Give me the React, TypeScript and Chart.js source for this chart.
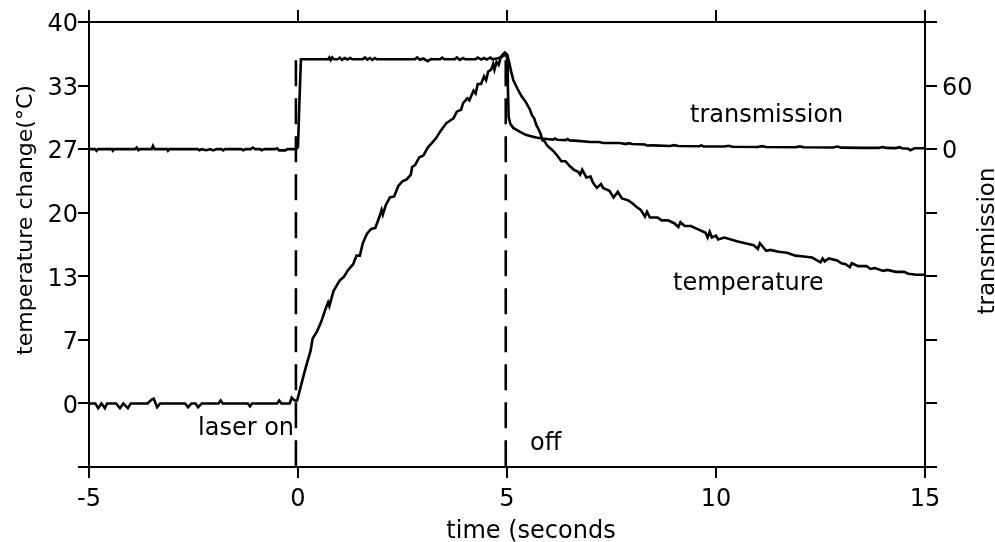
import React, { useEffect, useRef } from "react";
import { Chart, registerables } from "chart.js";

Chart.register(...registerables);

// ---------- data ----------
const xTicks = [-5, 0, 5, 10, 15];
const leftTicks = [-20 / 3, 0, 20 / 3, 40 / 3, 20, 80 / 3, 100 / 3, 40];
const rightTicks = [-300, -240, -180, -120, -60, 0, 60, 120];
const rightLabeled = [0, 60];

const tempTime = [
  -5, -4.85, -4.78, -4.7, -4.62, -4.57, -4.5, -4.35, -4.26, -4.18, -4.07, -4.0,
  -3.6, -3.5, -3.45, -3.37, -3.3, -2.7, -2.63, -2.55, -2.45, -2.39, -2.3, -1.9,
  -1.85, -1.8, -1.2, -1.15, -1.1, -0.5, -0.45, -0.4, -0.2, -0.15, -0.08, -0.02,
  0.05, 0.15, 0.22, 0.3, 0.35, 0.45, 0.55, 0.65, 0.72, 0.75, 0.85, 1.0, 1.1, 1.2,
  1.32, 1.4, 1.48, 1.55, 1.65, 1.75, 1.85, 1.95, 2.0, 2.03, 2.1, 2.2, 2.3, 2.4,
  2.5, 2.6, 2.7, 2.73, 2.8, 2.9, 3.0, 3.1, 3.2, 3.3, 3.4, 3.45, 3.55, 3.65, 3.72,
  3.8, 3.9, 3.95, 4.05, 4.1, 4.2, 4.25, 4.3, 4.38, 4.45, 4.5, 4.55, 4.62, 4.67,
  4.7, 4.75, 4.8, 4.85, 4.9, 4.95, 5.0, 5.05, 5.1, 5.15, 5.25, 5.35, 5.45, 5.55,
  5.6, 5.65, 5.7, 5.75, 5.8, 5.85, 5.9, 5.95, 6.0, 6.1, 6.2, 6.3, 6.4, 6.5, 6.6,
  6.7, 6.75, 6.8, 6.9, 7.0, 7.05, 7.15, 7.25, 7.3, 7.45, 7.55, 7.65, 7.75, 7.9,
  8.0, 8.1, 8.2, 8.3, 8.35, 8.42, 8.6, 8.7, 8.85, 9.0, 9.1, 9.15, 9.25, 9.4, 9.6,
  9.75, 9.8, 9.85, 9.9, 10.0, 10.05, 10.2, 10.5, 10.7, 10.9, 11.0, 11.05, 11.2,
  11.3, 11.5, 11.7, 11.9, 12.1, 12.3, 12.5, 12.55, 12.6, 12.7, 12.9, 13.0, 13.1,
  13.2, 13.25, 13.4, 13.6, 13.7, 13.8, 14.0, 14.1, 14.3, 14.5, 14.6, 14.8, 15.0,
];
const tempValue = [
  0, 0, -0.5, 0, -0.5, 0, 0, 0, -0.5, 0, -0.5, 0,
  0, 0.4, 0.5, -0.4, 0, 0, -0.4, 0, 0, -0.4, 0, 0,
  0.3, 0, 0, -0.3, 0, 0, 0.3, 0, 0, 0.6, 0.3, 0.3,
  1.5, 3.2, 4.3, 5.5, 6.8, 7.5, 8.5, 9.8, 10.6, 10.2, 11.8, 12.9, 13.3, 14.0,
  14.6, 15.5, 15.5, 16.8, 17.8, 18.3, 18.4, 19.6, 20.3, 19.8, 20.8, 21.6, 21.7, 22.8,
  23.3, 23.5, 24.0, 24.8, 25.0, 25.8, 26.0, 26.8, 27.3, 27.8, 28.5, 28.8, 29.4, 29.7, 29.9,
  30.6, 30.8, 31.5, 32.0, 31.8, 32.8, 32.5, 33.5, 33.5, 34.3, 33.9, 34.8, 35.0, 35.6,
  35.0, 35.8, 35.5, 36.3, 36.6, 36.8, 36.6, 35.8, 34.8, 33.9, 33.0, 32.2, 31.6, 30.8,
  30.2, 29.9, 29.2, 28.8, 28.3, 27.6, 27.5, 27.1, 26.9, 26.5, 26.0, 25.4, 25.4, 24.9, 24.5,
  24.3, 24.0, 24.5, 23.7, 23.8, 23.2, 22.6, 23.0, 22.6, 22.3, 21.6, 22.2, 21.5, 21.3,
  21.0, 20.6, 20.3, 19.6, 20.1, 19.5, 19.5, 19.2, 19.2, 18.9, 18.5, 19.0, 18.6, 18.6, 18.2,
  17.9, 17.4, 18.0, 17.4, 17.6, 17.2, 17.4, 17.0, 16.8, 16.6, 16.2, 16.8, 16.0,
  16.1, 15.9, 15.8, 15.5, 15.4, 15.3, 14.8, 15.2, 14.9, 15.2, 15.0, 14.7, 14.6,
  14.3, 14.7, 14.4, 14.4, 14.1, 14.2, 13.9, 14.0, 13.8, 13.8, 13.6, 13.5, 13.5,
];

const transTime = [
  -5, -4.85, -4.82, -4.78, -4.45, -4.43, -4.4, -3.9, -3.86, -3.82, -3.78, -3.5,
  -3.47, -3.43, -3.13, -3.11, -3.08, -2.4, -2.36, -2.3, -2.2, -2.1, -2.03, -1.95,
  -1.83, -1.79, -1.75, -1.35, -1.31, -1.25, -1.13, -1.08, -1.03, -0.9, -0.87, -0.8,
  -0.55, -0.5, -0.45, -0.3, -0.25, -0.05, 0.0, 0.03, 0.07, 0.72, 0.75, 0.78, 0.82,
  0.86, 0.95, 1.0, 1.05, 1.12, 1.18, 1.25, 1.3, 1.55, 1.6, 1.66, 1.72, 1.78, 1.84,
  1.88, 2.8, 2.85, 2.92, 3.0, 3.1, 3.18, 3.25, 3.4, 3.45, 3.5, 3.75, 3.8, 3.87,
  3.95, 4.0, 4.25, 4.3, 4.38, 4.45, 4.52, 4.6, 4.65, 4.75, 4.85, 4.92, 5.0, 5.02,
  5.04, 5.08, 5.15, 5.3, 5.45, 5.55, 5.7, 5.85, 5.96, 6.1, 6.15, 6.2, 6.4, 6.45,
  6.5, 6.7, 6.99, 7.2, 7.3, 7.7, 7.85, 7.9, 8.0, 8.3, 8.35, 8.5, 8.9, 9.0, 9.1,
  9.6, 9.65, 9.7, 10.2, 10.3, 10.4, 11.0, 11.1, 11.2, 11.9, 12.0, 12.1, 12.8, 12.9,
  13.0, 13.5, 13.9, 14.0, 14.05, 14.3, 14.4, 14.45, 14.6, 14.65, 14.75, 15.0,
];
const transValue = [
  0, 0, -1.5, 0, 0, -1.5, 0, 0, 1.5, -1, 0, 0,
  3, 0, 0, -1.5, 0, 0, -1, 0, -1, 0, -1.2, 0,
  0, -1.2, 0, 0, -1, 0, 0, 1.5, 0, 0, -1, 0,
  0, 0.8, -1.2, -1.2, 0, 0, 2, 40, 84.8, 84.8, 86.5, 84, 86.5,
  84.8, 84.8, 86.3, 84.3, 86, 84.5, 86, 84.8, 84.8, 86.5, 84.5, 86, 84.3, 86,
  84.8, 84.8, 86.5, 84.3, 85.5, 83, 85, 84.8, 84.8, 86.3, 84.8, 84.8, 86.5, 84.3,
  86, 84.8, 84.8, 86.5, 84.5, 86, 84.5, 86.5, 84.8, 85.5, 86.5, 88.5, 88.5, 60,
  30, 24, 20, 16.5, 13.5, 12.4, 11, 10, 9.5, 9, 10, 8.8, 8.5, 9.5,
  8.3, 7.8, 6.7, 6.7, 5.8, 5.8, 4.8, 5.6, 4.8, 4.4, 3.4, 3.6, 3.0, 3.8, 3.0,
  2.8, 3.6, 2.6, 2.5, 3.2, 2.3, 2.0, 2.8, 2.0, 1.8, 2.6, 1.8, 1.6, 2.4,
  1.4, 1.2, 1.2, 2.0, 1.2, 1.0, 1.8, 0.8, 0.4, -1, 0.8, 0.8,
];

const laserTimes = [-0.05, 4.97];
const markerRange = [36, -20 / 3];

const FONT = "'DejaVu Sans', Verdana, sans-serif";

const textPlugin = {
  id: "texts",
  afterDraw(chart: any) {
    const ctx = chart.ctx as CanvasRenderingContext2D;
    ctx.save();
    ctx.fillStyle = "#000";
    ctx.textBaseline = "alphabetic";

    // x title
    ctx.font = `24px ${FONT}`;
    ctx.textAlign = "center";
    ctx.fillText("time (seconds", 531, 538);

    // left title
    ctx.save();
    ctx.translate(32, 220);
    ctx.rotate(-Math.PI / 2);
    ctx.font = `22px ${FONT}`;
    ctx.textAlign = "center";
    ctx.fillText("temperature change(°C)", 0, 0);
    ctx.restore();

    // right title
    ctx.save();
    ctx.translate(994, 241);
    ctx.rotate(-Math.PI / 2);
    ctx.font = `23px ${FONT}`;
    ctx.textAlign = "center";
    ctx.fillText("transmission", 0, 0);
    ctx.restore();

    // in-plot annotations
    ctx.font = `24px ${FONT}`;
    ctx.textAlign = "left";
    ctx.fillText("laser on", 198, 435);
    ctx.fillText("off", 530, 450);
    ctx.fillText("transmission", 690, 122);
    ctx.save();
    ctx.beginPath();
    ctx.rect(0, 0, 822, 542);
    ctx.clip();
    ctx.fillText("temperature", 673, 290);
    ctx.restore();

    ctx.restore();
  },
};

export default function App() {
  const ref = useRef<HTMLCanvasElement>(null);

  useEffect(() => {
    const canvas = ref.current;
    if (!canvas) return;

    const tempData = tempTime.map((t, i) => ({ x: t, y: tempValue[i] }));
    const transData = transTime.map((t, i) => ({ x: t, y: transValue[i] }));
    const markers = laserTimes.map((t) => [
      { x: t, y: markerRange[0] },
      { x: t, y: markerRange[1] },
    ]);

    const axisGrid = {
      drawOnChartArea: false,
      drawTicks: true,
      tickLength: 11,
      color: "#000",
      lineWidth: 2,
    };
    const axisBorder = { display: true, color: "#000", width: 2 };
    const tickFont = { family: FONT, size: 24 };

    const chart = new Chart(canvas, {
      type: "line",
      data: {
        datasets: [
          {
            label: "temperature",
            data: tempData,
            borderColor: "#000",
            borderWidth: 2.6,
            pointRadius: 0,
            tension: 0,
            xAxisID: "x",
            yAxisID: "y",
          },
          {
            label: "transmission",
            data: transData,
            borderColor: "#000",
            borderWidth: 2.6,
            pointRadius: 0,
            tension: 0,
            xAxisID: "x",
            yAxisID: "y1",
          },
          ...markers.map((m, i) => ({
            label: "marker" + i,
            data: m,
            borderColor: "#000",
            borderWidth: 2.6,
            borderDash: [26, 12],
            pointRadius: 0,
            xAxisID: "x",
            yAxisID: "y",
          })),
        ],
      },
      options: {
        responsive: false,
        animation: false,
        events: [],
        layout: { padding: 0 },
        plugins: {
          legend: { display: false },
          tooltip: { enabled: false },
        },
        scales: {
          x: {
            type: "linear",
            position: "bottom",
            min: -5,
            max: 15,
            afterBuildTicks: (s: any) => {
              s.ticks = xTicks.map((v) => ({ value: v }));
            },
            afterFit: (s: any) => {
              s.height = 75;
            },
            grid: axisGrid,
            border: axisBorder,
            ticks: {
              font: tickFont,
              color: "#000",
              padding: 7,
              maxRotation: 0,
              autoSkip: false,
              callback: (v: any) => String(v),
            },
          },
          x2: {
            type: "linear",
            position: "top",
            min: -5,
            max: 15,
            afterBuildTicks: (s: any) => {
              s.ticks = xTicks.map((v) => ({ value: v }));
            },
            afterFit: (s: any) => {
              s.height = 22;
            },
            grid: { ...axisGrid, tickLength: 12 },
            border: axisBorder,
            ticks: { display: false },
          },
          y: {
            type: "linear",
            position: "left",
            min: -20 / 3,
            max: 40,
            afterBuildTicks: (s: any) => {
              s.ticks = leftTicks.map((v) => ({ value: v }));
            },
            afterFit: (s: any) => {
              s.width = 89;
            },
            grid: axisGrid,
            border: axisBorder,
            ticks: {
              font: tickFont,
              color: "#000",
              padding: 0,
              labelOffset: 3,
              autoSkip: false,
              callback: (v: any) => (v < 0 ? "" : String(Math.round(v))),
            },
          },
          y1: {
            type: "linear",
            position: "right",
            min: -300,
            max: 120,
            afterBuildTicks: (s: any) => {
              s.ticks = rightTicks.map((v) => ({ value: v }));
            },
            afterFit: (s: any) => {
              s.width = 70;
            },
            grid: { ...axisGrid, tickLength: 12 },
            border: axisBorder,
            ticks: {
              font: tickFont,
              color: "#000",
              padding: 5,
              labelOffset: 3,
              autoSkip: false,
              callback: (v: any) => (rightLabeled.includes(v) ? String(v) : ""),
            },
          },
        },
      },
      plugins: [textPlugin],
    } as any);

    return () => chart.destroy();
  }, []);

  return (
    <div
      style={{
        position: "fixed",
        left: 0,
        top: 0,
        width: 995,
        height: 542,
        background: "#fff",
      }}
    >
      <canvas
        ref={ref}
        width={995}
        height={542}
        style={{ display: "block", width: 995, height: 542 }}
      />
    </div>
  );
}
